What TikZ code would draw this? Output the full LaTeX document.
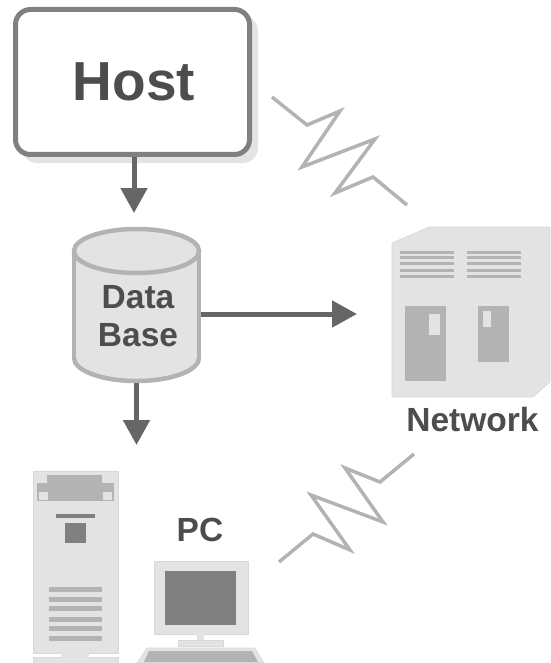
\documentclass[tikz,border=0pt]{standalone}
\usepackage{fontspec}
\setmainfont{Liberation Sans}
\usetikzlibrary{arrows.meta}
\definecolor{txt}{HTML}{4D4D4D}
\definecolor{edge}{HTML}{808080}
\definecolor{pale}{HTML}{E3E3E3}
\definecolor{mid}{HTML}{B3B3B3}
\definecolor{arrowc}{HTML}{666666}
\tikzset{
  x=1pt,y=-1pt,
  label text/.style={font=\bfseries\fontsize{33.5}{38}\selectfont,text=txt,inner sep=0pt,anchor=base,align=center},
  flow/.style={draw=arrowc,line width=5pt,-{Triangle[length=25pt,width=26pt,fill=arrowc]}},
  zig/.style={draw=mid,line width=3.5pt,miter limit=10},
  paleshape/.style={fill=pale,draw=pale!95!black,line width=.6pt},
}
\begin{document}
\begin{tikzpicture}
\useasboundingbox (0,0) rectangle (550,663);
% host
\fill[pale,rounded corners=15pt] (22,16) rectangle (258,163);
\node[draw=edge,fill=white,line width=5pt,rounded corners=15pt,minimum width=234pt,minimum height=145pt,inner sep=0pt] (host) at (132.5,82) {};
\node[font=\bfseries\fontsize{55}{60}\selectfont,text=txt,inner sep=0pt,anchor=base] (hosttxt) at (134,101) {Host};
% database
\node[inner sep=0pt,minimum width=129pt,minimum height=156pt] (db) at (136.5,305) {};
\fill[pale] (74,251) rectangle (199,358);
\fill[pale] (136.5,358) ellipse[x radius=62.5pt,y radius=23pt];
\draw[mid,line width=4.5pt,line cap=butt] (74,251) -- (74,358);
\draw[mid,line width=4.5pt,line cap=butt] (199,251) -- (199,358);
\begin{scope}
\clip (60,358) rectangle (215,390);
\draw[mid,line width=4.5pt] (136.5,358) ellipse[x radius=62.5pt,y radius=23pt];
\end{scope}
\draw[mid,fill=pale,line width=4.5pt] (136.5,251) ellipse[x radius=62.5pt,y radius=22pt];
\node[label text] (dbtxt) at (138,308) {Data};
\node[label text] (dbtxt2) at (138,346) {Base};
% network
\path[paleshape] (392,243) -- (429,227) -- (550,227) -- (550,382) -- (533,397) -- (392,397) -- cycle;
\foreach \y in {252,257.5,263.5,270,276}{
  \fill[mid] (400,\y-1.5) rectangle (454,\y+1.5);
  \fill[mid] (467,\y-1.5) rectangle (521,\y+1.5);
}
\fill[mid] (405,306) rectangle (446,381);
\fill[pale] (429,314) rectangle (440,335);
\fill[mid] (478,306) rectangle (509,362);
\fill[pale] (483,311) rectangle (491,327);
\node[label text] (nettxt) at (472.5,431) {Network};
% tower
\path[paleshape] (33,471) rectangle (118,653);
\path[paleshape] (33,657) rectangle (118,663);
\fill[pale] (61,650) rectangle (89,663);
\fill[mid] (47,475) rectangle (102,483);
\fill[mid] (37,483) rectangle (114,501);
\fill[pale] (39,492) rectangle (48,500);
\fill[pale] (103,492) rectangle (112,500);
\fill[edge] (56,514) rectangle (95,518);
\fill[edge] (65,523) rectangle (86,543);
\foreach \y in {587,596.5,606,617,626,636}{
  \fill[mid] (49,\y) rectangle (102,\y+5.3);
}
% monitor
\path[paleshape] (154,561) rectangle (248,634);
\fill[edge] (165,571) rectangle (236,625);
\fill[pale] (197,634) rectangle (204,640);
\path[paleshape] (178,640) rectangle (223,646);
\path[paleshape] (147,648) -- (255,648) -- (264,663) -- (137,663) -- cycle;
\fill[mid] (149,651) -- (252,651) -- (258,662) -- (144,662) -- cycle;
\node[label text] (pctxt) at (200,541) {PC};
% arrows
\coordinate (hostEnd) at (134,213);
\coordinate (netEnd) at (357,314);
\coordinate (pcEnd) at (136.5,445);
\draw[flow] (host.south -| hostEnd) -- (hostEnd);
\draw[flow] (db.east |- netEnd) -- (netEnd);
\draw[flow] (db.south) -- (pcEnd);
% zigzags
\draw[zig] (272,97) -- (307,125) -- (340,111) -- (302,167) -- (375,139) -- (335,193) -- (373,177) -- (407,205);
\draw[zig] (414,454) -- (380,482) -- (345,468) -- (383,522) -- (311,495) -- (350,550) -- (313,534) -- (279,562);
\end{tikzpicture}
\end{document}
